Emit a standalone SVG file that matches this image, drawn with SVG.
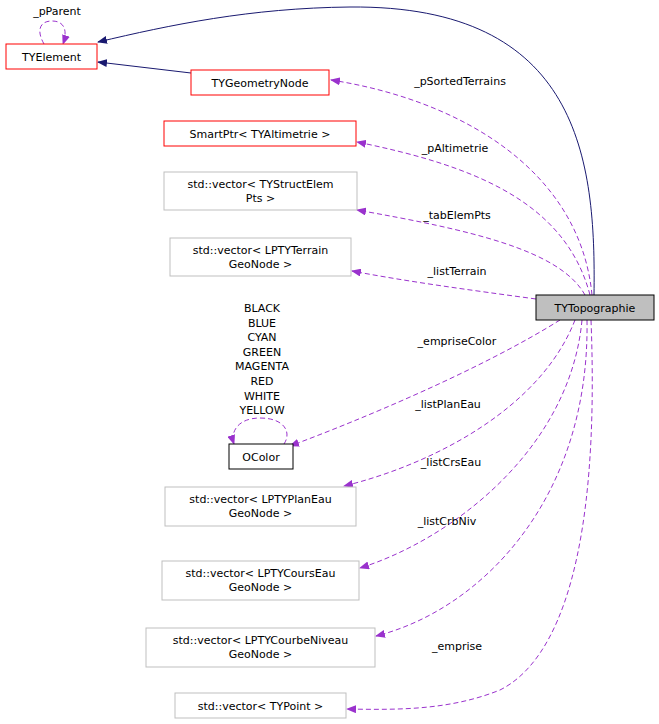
<svg xmlns="http://www.w3.org/2000/svg" width="659" height="724" viewBox="0 0 659 724">
<style>
text{font-family:"DejaVu Sans",sans-serif;font-size:11px;fill:#000}
.n{fill:#fff;stroke:#bfbfbf}
.r{fill:#fff;stroke:#ff0000}
.b{fill:#fff;stroke:#000}
.d{fill:none;stroke:#9a32cd;stroke-dasharray:5,3}
.s{fill:none;stroke:#191970}
</style>
<defs>
<marker id="ap" markerWidth="10" markerHeight="8" refX="9" refY="4" orient="auto" markerUnits="userSpaceOnUse"><path d="M0,0L10,4L0,8z" fill="#9a32cd"/></marker>
<marker id="an" markerWidth="10" markerHeight="8" refX="9" refY="4" orient="auto" markerUnits="userSpaceOnUse"><path d="M0,0L10,4L0,8z" fill="#191970"/></marker>
</defs>
<rect width="659" height="724" fill="#fff"/>
<g id="edges">
<path class="s" marker-end="url(#an)" d="M594,295C596,160 580,5 350,7C250,8 170,25 98,42"/>
<path class="s" marker-end="url(#an)" d="M191,73L98,62"/>
<path class="d" marker-end="url(#ap)" d="M44,44C36,30 40,21 52,21C64,21 68,30 63,44"/>
<path class="d" marker-end="url(#ap)" d="M592,295C580,170 460,100 331,80"/>
<path class="d" marker-end="url(#ap)" d="M590,295C565,200 470,165 357,142"/>
<path class="d" marker-end="url(#ap)" d="M585,295C560,250 470,230 357,210"/>
<path class="d" marker-end="url(#ap)" d="M536,299C470,290 410,282 352,271"/>
<path class="d" marker-end="url(#ap)" d="M560,320C480,370 360,420 290,446"/>
<path class="d" marker-end="url(#ap)" d="M575,320C540,410 430,465 344,486"/>
<path class="d" marker-end="url(#ap)" d="M582,320C570,450 450,540 360,568"/>
<path class="d" marker-end="url(#ap)" d="M587,320C590,500 480,610 376,636"/>
<path class="d" marker-end="url(#ap)" d="M591,320C600,550 560,660 500,690C450,710 400,710 347,709"/>
<path class="d" marker-end="url(#ap)" d="M284,444C292,432 284,418 260,418C238,418 230,432 234,444"/>
</g>
<g id="labels">
<text x="57" y="15" text-anchor="middle">_pParent</text>
<text x="460" y="85" text-anchor="middle">_pSortedTerrains</text>
<text x="455" y="152" text-anchor="middle">_pAltimetrie</text>
<text x="457" y="219" text-anchor="middle">_tabElemPts</text>
<text x="457" y="275" text-anchor="middle">_listTerrain</text>
<text x="457" y="345" text-anchor="middle">_empriseColor</text>
<text x="448" y="408" text-anchor="middle">_listPlanEau</text>
<text x="451" y="466" text-anchor="middle">_listCrsEau</text>
<text x="447" y="525" text-anchor="middle">_listCrbNiv</text>
<text x="457" y="650" text-anchor="middle">_emprise</text>
<text text-anchor="middle"><tspan x="262" y="312">BLACK</tspan><tspan x="262" y="327">BLUE</tspan><tspan x="262" y="341">CYAN</tspan><tspan x="262" y="356">GREEN</tspan><tspan x="262" y="370">MAGENTA</tspan><tspan x="262" y="385">RED</tspan><tspan x="262" y="400">WHITE</tspan><tspan x="262" y="414">YELLOW</tspan></text>
</g>
<g id="TYElement"><rect class="r" x="6" y="44" width="91" height="25"/><text x="51.5" y="61" text-anchor="middle">TYElement</text></g>
<g id="TYGeometryNode"><rect class="r" x="191" y="70" width="138" height="25"/><text x="260" y="87" text-anchor="middle">TYGeometryNode</text></g>
<g id="SmartPtr"><rect class="r" x="164" y="121" width="192" height="25"/><text x="260" y="138" text-anchor="middle">SmartPtr&lt; TYAltimetrie &gt;</text></g>
<g id="vStructElem"><rect class="n" x="164" y="172" width="193" height="38"/><text text-anchor="middle"><tspan x="260.5" y="188">std::vector&lt; TYStructElem</tspan><tspan x="260.5" y="202">Pts &gt;</tspan></text></g>
<g id="vTerrain"><rect class="n" x="170" y="238" width="181" height="38"/><text text-anchor="middle"><tspan x="260.5" y="254">std::vector&lt; LPTYTerrain</tspan><tspan x="260.5" y="268">GeoNode &gt;</tspan></text></g>
<g id="TYTopographie"><rect x="536" y="295" width="118" height="25" fill="#bfbfbf" stroke="#000"/><text x="595" y="312" text-anchor="middle">TYTopographie</text></g>
<g id="OColor"><rect class="b" x="229" y="444" width="64" height="25"/><text x="261" y="461" text-anchor="middle">OColor</text></g>
<g id="vPlanEau"><rect class="n" x="165" y="487" width="191" height="39"/><text text-anchor="middle"><tspan x="260.5" y="503">std::vector&lt; LPTYPlanEau</tspan><tspan x="260.5" y="517">GeoNode &gt;</tspan></text></g>
<g id="vCoursEau"><rect class="n" x="162" y="561" width="197" height="39"/><text text-anchor="middle"><tspan x="260.5" y="577">std::vector&lt; LPTYCoursEau</tspan><tspan x="260.5" y="591">GeoNode &gt;</tspan></text></g>
<g id="vCourbeNiveau"><rect class="n" x="146" y="628" width="229" height="39"/><text text-anchor="middle"><tspan x="260.5" y="644">std::vector&lt; LPTYCourbeNiveau</tspan><tspan x="260.5" y="658">GeoNode &gt;</tspan></text></g>
<g id="vPoint"><rect class="n" x="175" y="693" width="171" height="25"/><text x="260.5" y="710" text-anchor="middle">std::vector&lt; TYPoint &gt;</text></g>
</svg>
